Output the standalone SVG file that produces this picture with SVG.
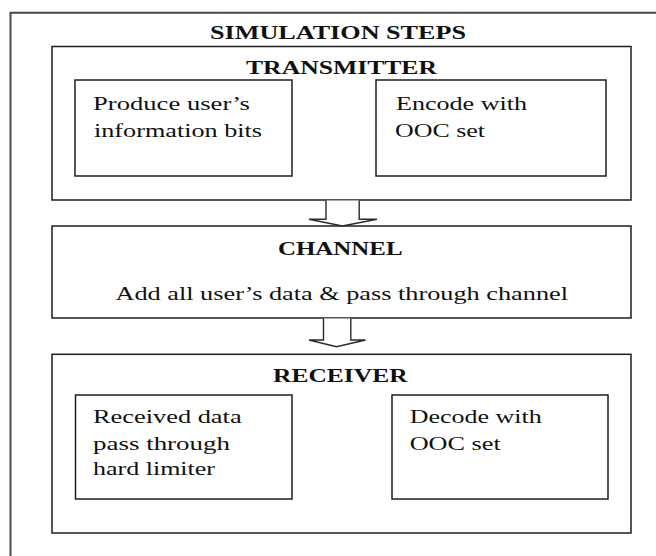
<svg xmlns="http://www.w3.org/2000/svg" width="656" height="556" viewBox="0 0 656 556">
  <style>
    .frame { fill: none; stroke: #4a4a4a; stroke-width: 2; }
    .box { fill: #ffffff; stroke: #1e1e1e; stroke-width: 1.5; }
    .arrow { fill: #ffffff; stroke: #2a2a2a; stroke-width: 1.4; stroke-linejoin: miter; }
    .title { font-family: "Liberation Serif", "Times New Roman", serif; font-size: 18px; font-weight: bold; fill: #111; }
    .label { font-family: "Liberation Serif", "Times New Roman", serif; font-size: 18px; fill: #111; }
  </style>
  <rect x="0" y="0" width="656" height="556" fill="#ffffff"/>

  <!-- outer frame (open to the right and bottom) -->
  <path class="frame" d="M10.5,560 V12.7 H660"/>
  <text class="title" x="210" y="39" textLength="256" lengthAdjust="spacingAndGlyphs">SIMULATION STEPS</text>

  <!-- transmitter stage -->
  <g id="transmitter">
    <rect class="box" x="52" y="46.5" width="579" height="153.5"/>
    <text class="title" x="246" y="74" textLength="191" lengthAdjust="spacingAndGlyphs">TRANSMITTER</text>
  </g>
  <g id="produce-bits">
    <rect class="box" x="75" y="80" width="217" height="96"/>
    <text class="label" x="93" y="110" textLength="157" lengthAdjust="spacingAndGlyphs">Produce user’s</text>
    <text class="label" x="94" y="136.5" textLength="168" lengthAdjust="spacingAndGlyphs">information bits</text>
  </g>
  <g id="encode">
    <rect class="box" x="376" y="80" width="230" height="96"/>
    <text class="label" x="396" y="110" textLength="131" lengthAdjust="spacingAndGlyphs">Encode with</text>
    <text class="label" x="395" y="136.5" textLength="90" lengthAdjust="spacingAndGlyphs">OOC set</text>
  </g>

  <!-- channel stage -->
  <g id="channel">
    <rect class="box" x="52" y="226" width="579" height="92"/>
    <text class="title" x="278" y="255" textLength="124.5" lengthAdjust="spacingAndGlyphs">CHANNEL</text>
    <text class="label" x="115.5" y="299.5" textLength="452.5" lengthAdjust="spacingAndGlyphs">Add all user’s data &amp; pass through channel</text>
  </g>

  <!-- receiver stage -->
  <g id="receiver">
    <rect class="box" x="52" y="354.3" width="579" height="178.7"/>
    <text class="title" x="273" y="382" textLength="134.6" lengthAdjust="spacingAndGlyphs">RECEIVER</text>
  </g>
  <g id="hard-limiter">
    <rect class="box" x="75.5" y="395" width="216.5" height="104"/>
    <text class="label" x="93" y="423" textLength="148.6" lengthAdjust="spacingAndGlyphs">Received data</text>
    <text class="label" x="93" y="450" textLength="137" lengthAdjust="spacingAndGlyphs">pass through</text>
    <text class="label" x="93" y="475" textLength="122" lengthAdjust="spacingAndGlyphs">hard limiter</text>
  </g>
  <g id="decode">
    <rect class="box" x="392" y="395" width="216" height="104"/>
    <text class="label" x="409.7" y="423" textLength="132" lengthAdjust="spacingAndGlyphs">Decode with</text>
    <text class="label" x="409.7" y="450" textLength="91" lengthAdjust="spacingAndGlyphs">OOC set</text>
  </g>

  <!-- block arrows between stages -->
  <g id="connectors">
    <path class="arrow" d="M326,200.5 V219.3 H309 L342.4,226 L377,219.3 H359.2 V200.5"/>
    <path class="arrow" d="M323.5,318.5 V340 H309 L336.5,346.8 L365.5,340 H350.8 V318.5"/>
  </g>
</svg>
